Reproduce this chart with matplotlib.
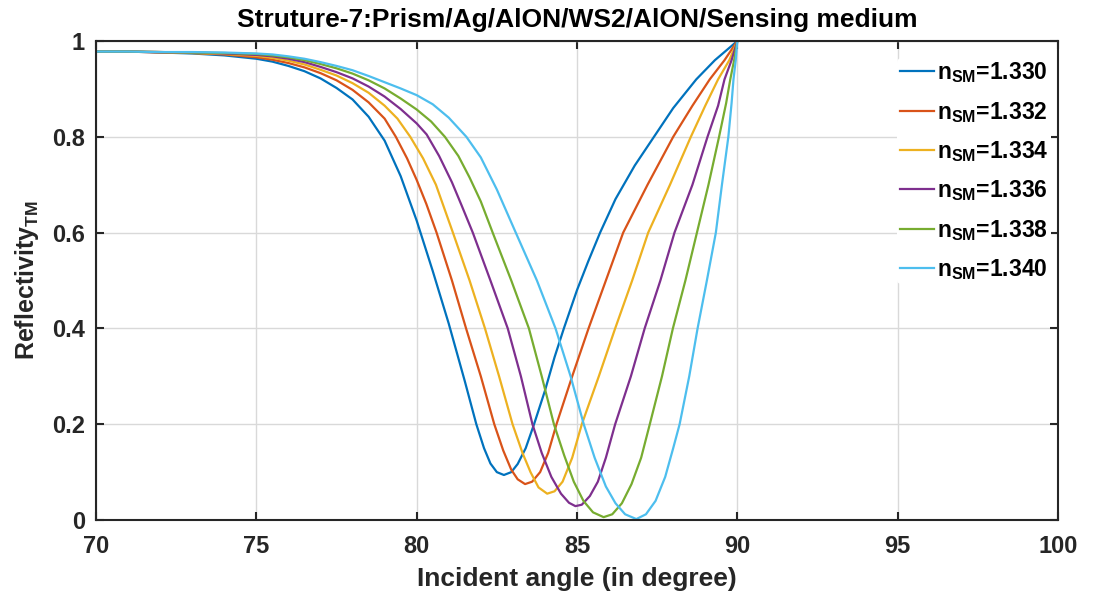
import numpy as np
import matplotlib
matplotlib.use("Agg")
import matplotlib.pyplot as plt
from matplotlib.ticker import FuncFormatter

plt.rcParams['font.family'] = ['Liberation Sans', 'DejaVu Sans']
plt.rcParams['mathtext.fontset'] = 'custom'
plt.rcParams['mathtext.rm'] = 'Liberation Sans:bold'
plt.rcParams['mathtext.bf'] = 'Liberation Sans:bold'
plt.rcParams['mathtext.it'] = 'Liberation Sans:bold'

# refractive index of sensing medium
n_sm = ['1.330', '1.332', '1.334', '1.336', '1.338', '1.340']
colors = ['#0072BD', '#D95319', '#EDB120', '#7E2F8E', '#77AC30', '#4DBEEE']

# values (angle in degree, reflectivity)
ang_1330 = [70, 71, 72, 73, 74, 75, 75.5, 76, 76.5, 77, 77.5, 78, 78.5, 79.0, 79.5, 80.0, 80.5, 81.0, 81.5,
            81.86, 82.1, 82.3, 82.5, 82.72, 82.95, 83.15, 83.4, 83.66, 84.0, 84.3, 84.59, 85.0, 85.35, 85.72,
            86.2, 86.8, 87.4, 88.0, 88.72, 89.3, 90]
ref_1330 = [0.978, 0.978, 0.976, 0.974, 0.970, 0.963, 0.957, 0.948, 0.937, 0.922, 0.902, 0.878, 0.842, 0.792,
            0.718, 0.625, 0.520, 0.410, 0.290, 0.20, 0.150, 0.118, 0.100, 0.094, 0.100, 0.117, 0.150, 0.20, 0.27,
            0.34, 0.40, 0.48, 0.54, 0.60, 0.67, 0.74, 0.80, 0.86, 0.92, 0.96, 1.0]

ang_1332 = [70, 71, 72, 73, 74, 75, 75.5, 76, 76.5, 77, 77.5, 78, 78.5, 79, 79.35, 79.7, 80.0, 80.3, 80.62,
            81.1, 81.54, 82.0, 82.42, 82.7, 82.95, 83.15, 83.38, 83.6, 83.85, 84.1, 84.36, 84.85, 85.36, 85.9,
            86.44, 87.2, 88.0, 88.6, 89.14, 89.6, 90]
ref_1332 = [0.978, 0.978, 0.976, 0.975, 0.972, 0.966, 0.961, 0.954, 0.945, 0.933, 0.918, 0.898, 0.872, 0.838,
            0.80, 0.755, 0.71, 0.66, 0.60, 0.50, 0.40, 0.30, 0.20, 0.145, 0.105, 0.085, 0.075, 0.080, 0.10, 0.14,
            0.20, 0.30, 0.40, 0.50, 0.60, 0.70, 0.80, 0.865, 0.92, 0.96, 1.0]

ang_1334 = [70, 71, 72, 73, 74, 75, 75.5, 76, 76.5, 77, 77.5, 78, 78.5, 79, 79.4, 79.8, 80.2, 80.6, 81.13,
            81.65, 82.13, 82.57, 82.99, 83.3, 83.55, 83.8, 84.07, 84.3, 84.55, 84.85, 85.15, 85.68, 86.19, 86.72,
            87.22, 87.9, 88.55, 89.0, 89.4, 89.75, 90]
ref_1334 = [0.978, 0.978, 0.977, 0.975, 0.973, 0.969, 0.965, 0.959, 0.951, 0.940, 0.928, 0.912, 0.892, 0.865,
            0.838, 0.80, 0.755, 0.70, 0.60, 0.50, 0.40, 0.30, 0.20, 0.14, 0.10, 0.068, 0.055, 0.060, 0.08, 0.13,
            0.20, 0.30, 0.40, 0.50, 0.60, 0.70, 0.80, 0.865, 0.92, 0.96, 1.0]

ang_1336 = [70, 71, 72, 73, 74, 75, 75.5, 76, 76.5, 77, 77.5, 78, 78.5, 79, 79.5, 80.0, 80.31, 80.7, 81.1,
            81.4, 81.75, 82.3, 82.84, 83.25, 83.61, 83.9, 84.2, 84.5, 84.75, 84.95, 85.15, 85.4, 85.65, 85.9,
            86.19, 86.68, 87.11, 87.6, 88.04, 88.6, 89.07, 89.4, 89.6, 89.82, 90]
ref_1336 = [0.978, 0.978, 0.977, 0.976, 0.974, 0.971, 0.968, 0.963, 0.956, 0.946, 0.935, 0.922, 0.905, 0.884,
            0.858, 0.828, 0.805, 0.760, 0.705, 0.657, 0.60, 0.50, 0.40, 0.30, 0.20, 0.14, 0.09, 0.055, 0.036,
            0.029, 0.032, 0.05, 0.08, 0.13, 0.20, 0.30, 0.40, 0.50, 0.60, 0.70, 0.80, 0.865, 0.92, 0.96, 1.0]

ang_1338 = [70, 71, 72, 73, 74, 75, 75.5, 76, 76.5, 77, 77.5, 78, 78.5, 79, 79.5, 80.0, 80.45, 80.88, 81.3,
            81.65, 82.0, 82.37, 82.95, 83.5, 83.9, 84.28, 84.6, 84.9, 85.2, 85.5, 85.83, 86.1, 86.4, 86.7, 87.0,
            87.27, 87.65, 87.99, 88.38, 88.74, 89.1, 89.43, 89.65, 89.78, 89.9, 90]
ref_1338 = [0.978, 0.978, 0.977, 0.976, 0.975, 0.973, 0.970, 0.966, 0.960, 0.952, 0.943, 0.932, 0.918, 0.901,
            0.880, 0.857, 0.832, 0.80, 0.760, 0.715, 0.665, 0.60, 0.50, 0.40, 0.30, 0.20, 0.135, 0.08, 0.04, 0.016,
            0.006, 0.012, 0.035, 0.075, 0.13, 0.20, 0.30, 0.40, 0.50, 0.60, 0.70, 0.80, 0.87, 0.92, 0.96, 1.0]

ang_1340 = [70, 71, 72, 73, 74, 75, 75.5, 76, 76.5, 77, 77.5, 78, 78.5, 79, 79.5, 80.0, 80.5, 81.0, 81.55,
            82.0, 82.5, 83.09, 83.75, 84.33, 84.8, 85.21, 85.55, 85.9, 86.2, 86.5, 86.85, 87.15, 87.45, 87.75,
            88.0, 88.2, 88.5, 88.76, 89.05, 89.33, 89.52, 89.72, 89.82, 89.88, 89.95, 90]
ref_1340 = [0.978, 0.978, 0.977, 0.977, 0.976, 0.974, 0.972, 0.968, 0.963, 0.956, 0.948, 0.939, 0.927, 0.914,
            0.901, 0.887, 0.868, 0.840, 0.80, 0.757, 0.69, 0.60, 0.50, 0.40, 0.30, 0.20, 0.13, 0.07, 0.035,
            0.012, 0.002, 0.012, 0.04, 0.09, 0.15, 0.20, 0.30, 0.40, 0.50, 0.60, 0.70, 0.80, 0.87, 0.92, 0.96, 1.0]

angles = [ang_1330, ang_1332, ang_1334, ang_1336, ang_1338, ang_1340]
refl = [ref_1330, ref_1332, ref_1334, ref_1336, ref_1338, ref_1340]

fig = plt.figure(figsize=(10.95, 5.98), dpi=100)
ax = fig.add_axes([0.0877, 0.1304, 0.8785, 0.801])

for a, r, n, c in zip(angles, refl, n_sm, colors):
    ax.plot(a, r, color=c, linewidth=1.6, label=r'$\mathbf{n_{SM}}$=' + n)

ax.set_xlim(70, 100)
ax.set_ylim(0, 1)
ax.set_xticks(np.arange(70, 101, 5))
ax.set_yticks([0, 0.2, 0.4, 0.6, 0.8, 1])
ax.yaxis.set_major_formatter(FuncFormatter(lambda v, p: '%g' % v))
ax.grid(True, color='#d9d9d9', linewidth=1)
ax.set_axisbelow(True)
ax.tick_params(direction='in', length=6, width=1.5, top=True, right=True,
               labelsize=17, pad=8, colors='#262626')
ax.tick_params(axis='x', pad=11)
for lbl in ax.get_xticklabels() + ax.get_yticklabels():
    lbl.set_fontweight('bold')
for s in ax.spines.values():
    s.set_linewidth(1.5)
    s.set_color('#262626')

ax.set_xlabel('Incident angle (in degree)', fontsize=19, fontweight='bold', color='#262626', labelpad=6)
ax.set_ylabel(r'Reflectivity$_{\mathbf{TM}}$', fontsize=18, fontweight='bold', color='#262626', labelpad=8)
ax.set_title('Struture-7:Prism/Ag/AlON/WS2/AlON/Sensing medium', fontsize=19, fontweight='bold', pad=10)

leg = ax.legend(loc='upper right', bbox_to_anchor=(0.997, 0.974), fontsize=16.5, handlelength=1.5,
                handletextpad=0.12, labelspacing=0.63, borderaxespad=0.2, frameon=True,
                framealpha=1, edgecolor='none', facecolor='white', borderpad=0.1)
for t in leg.get_texts():
    t.set_fontweight('bold')

fig.savefig('out.png', dpi=100)
